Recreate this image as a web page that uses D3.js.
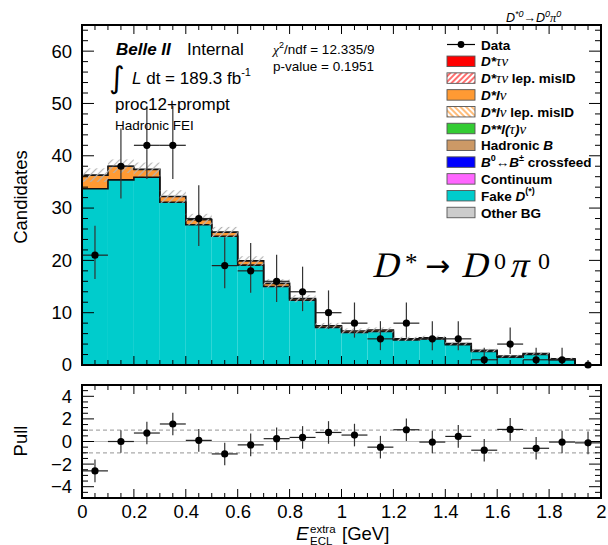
<!DOCTYPE html>
<html><head><meta charset="utf-8">
<script src="https://cdn.jsdelivr.net/npm/d3@7"></script>
<style>
body{margin:0;background:#fff;}
</style>
</head><body>
<svg id="c" width="608" height="545" font-family="Liberation Sans, Arial, Helvetica, sans-serif"></svg>
<script>
// ---------- data ----------
const binCenters = [0.05,0.15,0.25,0.35,0.45,0.55,0.65,0.75,0.85,0.95,1.05,1.15,1.25,1.35,1.45,1.55,1.65,1.75,1.85,1.95];
const binWidth = 0.1;
const fakeD      = [33.7,35.4,35.9,31.1,26.8,24.6,19.1,15.0,12.4,7.2,6.2,6.4,4.8,5.0,3.9,2.6,1.5,2.0,1.0,0];
const dstarLnu   = [2.45,2.45,1.4,1.0,0.95,0.75,0.75,0.55,0.3,0.3,0.3,0.3,0.2,0.2,0.2,0.2,0.2,0.2,0.2,0];
const dstarTauNu = [0.15,0.15,0.1,0.1,0.05,0.05,0.05,0.05,0,0,0,0,0,0,0,0,0,0,0,0];
const mcUnc      = [1.3,1.3,1.3,1.2,1.1,1.0,0.9,0.8,0.7,0.55,0.5,0.5,0.4,0.4,0.35,0.3,0.25,0.25,0.2,0];
const dataCounts = [21,38,42,42,28,19,18,16,14,10,8,5,8,5,5,1,4,1,1,0];
const dataErrLo  = [4.55,6.15,6.46,6.46,5.27,4.32,4.2,3.96,3.7,3.11,2.77,2.16,2.77,2.16,2.16,0.83,1.91,0.83,0.83,0];
const dataErrHi  = [5.6,7.22,7.53,7.53,6.35,5.4,5.3,5.06,4.8,4.26,3.95,3.38,3.95,3.38,3.38,2.3,3.16,2.3,2.3,0];
const pulls      = [-2.6,0.0,0.75,1.55,0.1,-1.1,-0.3,0.25,0.36,0.8,0.57,-0.5,1.04,-0.05,0.45,-0.77,1.07,-0.6,-0.05,-0.12];
const pullErr    = 1;
const mainYTicks = [0,10,20,30,40,50,60];
const pullYTicks = [-4,-2,0,2,4];
const xTicks     = [0,0.2,0.4,0.6,0.8,1,1.2,1.4,1.6,1.8,2];
const legendItems = [
  {name:"Data", kind:"data"},
  {name:"D*τν", kind:"fill", color:"#ff0000"},
  {name:"D*τν lep. misID", kind:"hatch", color:"#ff3030", dir:"/"},
  {name:"D*lν", kind:"fill", color:"#ff9a33"},
  {name:"D*lν lep. misID", kind:"hatch", color:"#ff9a33", dir:"\\"},
  {name:"D**l(τ)ν", kind:"fill", color:"#33cc33"},
  {name:"Hadronic B", kind:"fill", color:"#cc9966"},
  {name:"B0↔B± crossfeed", kind:"fill", color:"#0000ff"},
  {name:"Continuum", kind:"fill", color:"#ff66ff"},
  {name:"Fake D(*)", kind:"fill", color:"#00cccc"},
  {name:"Other BG", kind:"fill", color:"#cccccc"}
];

// ---------- layout ----------
const L = 82, R = 601;
const mainTop = 25, mainBot = 365;
const pullTop = 385, pullBot = 498;
const SERIF = "Liberation Serif, DejaVu Serif, serif";
const svg = d3.select("#c");

const x = d3.scaleLinear().domain([0,2]).range([L,R]);
const y = d3.scaleLinear().domain([0,65]).range([mainBot,mainTop]);
const yp = d3.scaleLinear().domain([-5,5]).range([pullBot,pullTop]);

const defs = svg.append("defs");
function hatch(id, color, dir, sw, gap){
  const p = defs.append("pattern").attr("id",id).attr("patternUnits","userSpaceOnUse")
    .attr("width",gap).attr("height",gap)
    .attr("patternTransform", dir==="/" ? "rotate(45)" : "rotate(-45)");
  p.append("line").attr("x1",gap/2).attr("y1",0).attr("x2",gap/2).attr("y2",gap)
    .attr("stroke",color).attr("stroke-width",sw);
}
hatch("hGray","#b4b4b4","/",1.2,5);
hatch("hRed","#ff2020","/",1.3,4);
hatch("hOrange","#ff9a33","\\",1.3,4);

// ---------- stacked histogram ----------
const stackSeries = [
  {vals: fakeD, color:"#00cccc"},
  {vals: dstarLnu, color:"#ff9a33"},
  {vals: dstarTauNu, color:"#ff0000"}
];
const gMain = svg.append("g");
const cum = binCenters.map(()=>0);
const tops = [];
stackSeries.forEach(s=>{
  const lo = cum.slice();
  binCenters.forEach((c,i)=>{ cum[i]+=s.vals[i]; });
  const hi = cum.slice();
  tops.push(hi);
  gMain.selectAll(null).data(binCenters).enter().append("rect")
    .attr("x",c=>x(c-binWidth/2)).attr("width",c=>x(c+binWidth/2)-x(c-binWidth/2))
    .attr("y",(c,i)=>y(hi[i])).attr("height",(c,i)=>Math.max(0,y(lo[i])-y(hi[i])))
    .attr("fill",s.color);
});
function stepPath(vals){
  let d = "";
  binCenters.forEach((c,i)=>{
    const x0=x(c-binWidth/2), x1=x(c+binWidth/2), yy=y(vals[i]);
    d += (i===0? "M"+x0+","+y(0)+"L"+x0+","+yy : "L"+x0+","+yy) + "L"+x1+","+yy;
  });
  d += "L"+x(2)+","+y(0);
  return d;
}
gMain.append("path").attr("d",stepPath(tops[0])).attr("fill","none").attr("stroke","#111").attr("stroke-width",1.6);
gMain.append("path").attr("d",stepPath(tops[2])).attr("fill","none").attr("stroke","#111").attr("stroke-width",1.6);
gMain.selectAll(null).data(binCenters).enter().append("rect")
  .attr("x",c=>x(c-binWidth/2)).attr("width",c=>x(c+binWidth/2)-x(c-binWidth/2))
  .attr("y",(c,i)=>y(tops[2][i]+mcUnc[i])).attr("height",(c,i)=>y(tops[2][i]-mcUnc[i])-y(tops[2][i]+mcUnc[i]))
  .attr("fill","url(#hGray)");

// data points
const gData = svg.append("g");
binCenters.forEach((c,i)=>{
  const v = dataCounts[i];
  gData.append("line").attr("x1",x(c-binWidth/2)).attr("x2",x(c+binWidth/2)).attr("y1",y(v)).attr("y2",y(v)).attr("stroke","#222").attr("stroke-width",1.2);
  gData.append("line").attr("x1",x(c)).attr("x2",x(c)).attr("y1",y(v-dataErrLo[i])).attr("y2",y(v+dataErrHi[i])).attr("stroke","#333").attr("stroke-width",1.2);
  gData.append("circle").attr("cx",x(c)).attr("cy",y(v)).attr("r",3.6).attr("fill","#000");
});

// ---------- pull panel ----------
const gPull = svg.append("g");
gPull.append("line").attr("x1",L).attr("x2",R).attr("y1",yp(0)).attr("y2",yp(0)).attr("stroke","#bbb").attr("stroke-width",1.2);
[1,-1].forEach(v=>gPull.append("line").attr("x1",L).attr("x2",R).attr("y1",yp(v)).attr("y2",yp(v))
  .attr("stroke","#aaa").attr("stroke-width",1.2).attr("stroke-dasharray","4,3"));
binCenters.forEach((c,i)=>{
  const v = pulls[i];
  gPull.append("line").attr("x1",x(c-binWidth/2)).attr("x2",x(c+binWidth/2)).attr("y1",yp(v)).attr("y2",yp(v)).attr("stroke","#222").attr("stroke-width",1.2);
  gPull.append("line").attr("x1",x(c)).attr("x2",x(c)).attr("y1",yp(v-pullErr)).attr("y2",yp(v+pullErr)).attr("stroke","#333").attr("stroke-width",1.2);
  gPull.append("circle").attr("cx",x(c)).attr("cy",yp(v)).attr("r",3.6).attr("fill","#000");
});

// ---------- axes / frames ----------
function ticksRange(a,b,step){ const out=[]; for(let v=a; v<=b+1e-9; v+=step) out.push(+v.toFixed(6)); return out; }
const xMinor = ticksRange(0,2,0.05);
function drawFrame(top,bot,yScale,yMajor,yMinor,showXLabels,majLen,minLen){
  const g = svg.append("g");
  xMinor.forEach(v=>{
    const isMaj = xTicks.some(t=>Math.abs(t-v)<1e-6);
    const len = isMaj? majLen.x : minLen.x;
    g.append("line").attr("x1",x(v)).attr("x2",x(v)).attr("y1",bot).attr("y2",bot-len).attr("stroke","#000").attr("stroke-width",1);
    g.append("line").attr("x1",x(v)).attr("x2",x(v)).attr("y1",top).attr("y2",top+len).attr("stroke","#000").attr("stroke-width",1);
  });
  yMinor.forEach(v=>{
    const isMaj = yMajor.some(t=>Math.abs(t-v)<1e-6);
    const len = isMaj? majLen.y : minLen.y;
    g.append("line").attr("x1",L).attr("x2",L+len).attr("y1",yScale(v)).attr("y2",yScale(v)).attr("stroke","#000").attr("stroke-width",1);
    g.append("line").attr("x1",R).attr("x2",R-len).attr("y1",yScale(v)).attr("y2",yScale(v)).attr("stroke","#000").attr("stroke-width",1);
  });
  g.append("rect").attr("x",L).attr("y",top).attr("width",R-L).attr("height",bot-top)
    .attr("fill","none").attr("stroke","#000").attr("stroke-width",2);
  const ax = d3.axisLeft(yScale).tickValues(yMajor).tickSize(0).tickPadding(10).tickFormat(d=>d<0? "\u2212"+Math.abs(d) : d);
  const ga = svg.append("g").attr("transform","translate("+L+",0)").call(ax);
  ga.select(".domain").remove();
  ga.selectAll("text").attr("font-size",18.5).attr("fill","#000").attr("font-family","Liberation Sans, Arial, sans-serif");
  if(showXLabels){
    const axx = d3.axisBottom(x).tickValues(xTicks).tickSize(0).tickPadding(7).tickFormat(d3.format("~g"));
    const gx = svg.append("g").attr("transform","translate(0,"+bot+")").call(axx);
    gx.select(".domain").remove();
    gx.selectAll("text").attr("font-size",18.5).attr("fill","#000").attr("font-family","Liberation Sans, Arial, sans-serif");
  }
}
drawFrame(mainTop,mainBot,y,mainYTicks,ticksRange(0,64,2),false,{x:9,y:12},{x:5,y:6});
drawFrame(pullTop,pullBot,yp,pullYTicks,ticksRange(-5,5,0.5),true,{x:9,y:12},{x:5,y:6});

// axis titles
svg.append("text").attr("transform","translate(27,197) rotate(-90)").attr("text-anchor","middle")
  .attr("font-size",18.5).text("Candidates");
svg.append("text").attr("transform","translate(27,441) rotate(-90)").attr("text-anchor","middle")
  .attr("font-size",18.5).text("Pull");
svg.append("text").attr("x",296).attr("y",540).attr("font-size",19).attr("font-style","italic").text("E");
svg.append("text").attr("x",310).attr("y",533).attr("font-size",11.5).text("extra");
svg.append("text").attr("x",310).attr("y",544.5).attr("font-size",11.5).text("ECL");
svg.append("text").attr("x",342).attr("y",540).attr("font-size",18.5).text("[GeV]");

// ---------- annotations ----------
const t1 = svg.append("text").attr("x",116).attr("y",55).attr("font-size",17);
t1.append("tspan").attr("font-weight","bold").attr("font-style","italic").text("Belle II");
t1.append("tspan").attr("x",187).text("Internal");
svg.append("text").attr("x",109).attr("y",88).attr("font-size",30).attr("font-family","DejaVu Sans").text("\u222B");
const t2 = svg.append("text").attr("x",132).attr("y",84).attr("font-size",17);
t2.append("tspan").attr("font-style","italic").text("L");
t2.append("tspan").text(" dt = 189.3 fb");
t2.append("tspan").attr("font-size",11).attr("dy",-8).text("-1");
svg.append("text").attr("x",115).attr("y",110).attr("font-size",17).text("proc12+prompt");
svg.append("text").attr("x",115).attr("y",130).attr("font-size",13.5).text("Hadronic FEI");

const c1 = svg.append("text").attr("x",273).attr("y",54).attr("font-size",13.5);
c1.append("tspan").attr("font-family",SERIF).attr("font-style","italic").text("χ");
c1.append("tspan").attr("font-size",9).attr("dy",-6).text("2");
c1.append("tspan").attr("dy",6).text("/ndf = 12.335/9");
svg.append("text").attr("x",273).attr("y",71).attr("font-size",13.5).text("p-value = 0.1951");

// top-right label
const tr = svg.append("text").attr("x",506).attr("y",22).attr("font-size",12.5).attr("font-style","italic");
tr.append("tspan").text("D");
tr.append("tspan").attr("font-size",9).attr("dy",-5).text("*0");
tr.append("tspan").attr("dy",5).attr("font-style","normal").text("\u2192");
tr.append("tspan").text("D");
tr.append("tspan").attr("font-size",9).attr("dy",-5).text("0");
tr.append("tspan").attr("dy",5).attr("font-family",SERIF).text("π");
tr.append("tspan").attr("font-size",9).attr("dy",-5).text("0");

// big formula (separate pieces, italic via skew)
const bfBase = 277;
function formulaPiece(txt, px, py, size, italic, fam){
  const t = svg.append("text").attr("font-size",size).attr("font-family",fam||SERIF).text(txt);
  t.attr("transform","translate("+px+","+py+")"+(italic?" skewX(-14)":""));
  return t;
}
formulaPiece("D", 372, bfBase, 36, true);
formulaPiece("*", 405, bfBase-6, 25, false);
formulaPiece("\u2192", 425, bfBase-1, 30, false, "DejaVu Sans");
formulaPiece("D", 461, bfBase, 36, true);
formulaPiece("0", 494, bfBase-8, 24, false);
formulaPiece("π", 509, bfBase, 36, true);
formulaPiece("0", 538, bfBase-8, 24, false);

// ---------- legend ----------
const legY0 = 44.5, legDy = 16.8, boxX = 447, boxW = 28, boxH = 10.5, txtX = 481;
const gl = svg.append("g");
legendItems.forEach((it,i)=>{
  const cy = legY0 + i*legDy;
  if(it.kind==="data"){
    gl.append("line").attr("x1",boxX).attr("x2",boxX+boxW).attr("y1",cy).attr("y2",cy).attr("stroke","#000").attr("stroke-width",1.2);
    gl.append("circle").attr("cx",boxX+boxW/2).attr("cy",cy).attr("r",3.4).attr("fill","#000");
  } else {
    const fill = it.kind==="fill" ? it.color : (it.dir==="/" ? "url(#hRed)" : "url(#hOrange)");
    gl.append("rect").attr("x",boxX).attr("y",cy-boxH/2).attr("width",boxW).attr("height",boxH)
      .attr("fill",fill).attr("stroke","#555").attr("stroke-width",0.9);
  }
  const t = gl.append("text").attr("x",txtX).attr("y",cy+5).attr("font-size",13.5).attr("font-weight","bold");
  const nm = it.name;
  const greek = s => t.append("tspan").attr("font-family",SERIF).attr("font-style","italic").attr("font-weight","normal").attr("font-size",15).text(s);
  if(nm.startsWith("D*τν")){
    t.append("tspan").attr("font-style","italic").text("D*");
    greek("τν");
    t.append("tspan").text(nm.slice(4));
  } else if(nm.startsWith("D*lν")){
    t.append("tspan").attr("font-style","italic").text("D*l");
    greek("ν");
    t.append("tspan").text(nm.slice(4));
  } else if(nm.startsWith("D**")){
    t.append("tspan").attr("font-style","italic").text("D**l(");
    greek("τ");
    t.append("tspan").attr("font-style","italic").text(")");
    greek("ν");
  } else if(nm==="Hadronic B"){
    t.append("tspan").text("Hadronic ");
    t.append("tspan").attr("font-style","italic").text("B");
  } else if(nm.startsWith("B0")){
    t.append("tspan").attr("font-style","italic").text("B");
    t.append("tspan").attr("font-size",9).attr("dy",-6).text("0");
    t.append("tspan").attr("dy",6).attr("font-weight","normal").text("\u2194");
    t.append("tspan").attr("font-style","italic").text("B");
    t.append("tspan").attr("font-size",9).attr("dy",-6).text("±");
    t.append("tspan").attr("dy",6).text(" crossfeed");
  } else if(nm.startsWith("Fake")){
    t.append("tspan").text("Fake ");
    t.append("tspan").attr("font-style","italic").text("D");
    t.append("tspan").attr("font-size",9).attr("dy",-7).text("(*)");
  } else {
    t.text(nm);
  }
});
</script>
</body></html>
